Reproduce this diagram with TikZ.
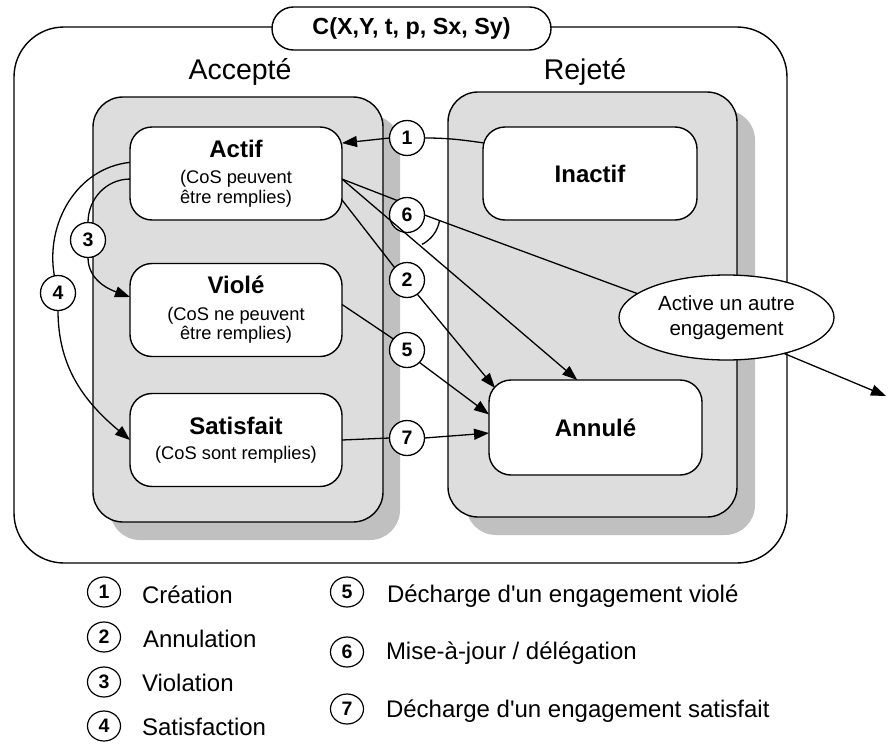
\documentclass[tikz,border=0pt]{standalone}
\usepackage{fontspec}
\setmainfont{Liberation Sans}[Ligatures=TeXOff]
\usetikzlibrary{arrows.meta,shapes.geometric,calc}
\definecolor{boxgray}{HTML}{DDDDDD}
\definecolor{shadegray}{HTML}{C0C0C0}
\begin{document}
\begin{tikzpicture}[x=1pt,y=1pt,
  every node/.style={inner sep=0pt, outer sep=0pt},
  conn/.style={line width=1.3pt},
  tip/.style={-{Triangle[length=15pt,width=11pt]}},
  state/.style={draw, line width=1.4pt, fill=white, rounded corners=22pt, minimum width=212pt, minimum height=93pt, align=center, font=\fontsize{18.3}{19.5}\selectfont},
  num/.style={circle, draw, fill=white, line width=1.3pt, minimum size=35pt, font=\fontsize{19.5}{19.5}\selectfont\bfseries},
  lnum/.style={ellipse, draw, fill=white, line width=1.2pt, minimum width=33pt, minimum height=30pt, font=\fontsize{19.5}{19.5}\selectfont\bfseries},
  ltext/.style={anchor=west, font=\fontsize{24}{24}\selectfont},
  region/.style={font=\fontsize{28.5}{28.5}\selectfont}
]
\useasboundingbox (0,0) rectangle (888,-744);

% outer frame
\draw[line width=1.4pt, rounded corners=50pt] (14,-27) rectangle (787,-563);
\node[draw, fill=white, line width=1.4pt, rounded corners=21.5pt, minimum width=279pt, minimum height=43pt, font=\fontsize{23.3}{23.3}\selectfont\bfseries] (title) at (411.5,-28.5) {C(X,Y, t, p, Sx, Sy)};

\node[region] (acc) at (240,-72) {Accepté};
\node[region] (rej) at (585,-72) {Rejeté};

% gray boxes
\fill[shadegray, rounded corners=30pt] (110,-115) rectangle (400,-540);
\draw[fill=boxgray, line width=1.4pt, rounded corners=30pt] (93,-97) rectangle (383,-522);
\fill[shadegray, rounded corners=30pt] (466,-110) rectangle (755,-535);
\draw[fill=boxgray, line width=1.4pt, rounded corners=30pt] (448,-92) rectangle (737,-517);

% states
\node[state] (act) at (236,-173.5) {{\fontsize{24}{24}\selectfont\bfseries Actif}\\[7pt](CoS peuvent\\être remplies)};
\node[state] (vio) at (236,-310) {{\fontsize{24}{24}\selectfont\bfseries Violé}\\[7pt](CoS ne peuvent\\être remplies)};
\node[state] (sat) at (236,-440) {{\fontsize{24}{24}\selectfont\bfseries Satisfait}\\[5pt](CoS sont remplies)};
\node[state, minimum width=214pt] (inact) at (590,-173.5) {{\fontsize{24}{24}\selectfont\bfseries Inactif}};
\node[state, minimum width=213pt, minimum height=95pt] (ann) at (595.5,-427.5) {{\fontsize{24}{24}\selectfont\bfseries Annulé}};

\node[ellipse, draw, fill=white, line width=1.3pt, minimum width=215pt, minimum height=85pt, align=center, font=\fontsize{20.5}{25}\selectfont] (ell) at (726.5,-317.5) {Active un autre\\engagement};

% numbered circles
\node[num] (c1) at (407,-138) {1};
\node[num] (c6) at (407,-215) {6};
\node[num] (c2) at (407,-280) {2};
\node[num] (c5) at (407,-350) {5};
\node[num] (c7) at (407,-438) {7};
\node[num] (c3) at (88,-240) {3};
\node[num] (c4) at (58,-293) {4};

% connectors
% 1
\draw[conn] (inact.164) to[out=172,in=0] (c1.east);
\draw[conn,tip] (c1.west) -- (act.16);
% 6
\draw[conn] (act.-3.5) -- (c6.124);
\draw[conn] (c6.east) -- (ell.165);
\draw[conn,tip] (act.-3.5) -- (ann.111);
\draw[conn] ($(c6.center)+(-9:33)$) arc[start angle=-9,end angle=-63,radius=33];
% 2
\draw[conn] (act.-14) -- (c2.135);
\draw[conn,tip] (c2.-54) -- ($(ann.center)+(-100.5,39.5)$);
% 5
\draw[conn] (vio.3.8) -- (c5.141);
\draw[conn,tip] (c5.-45) -- (ann.173.4);
% 7
\draw[conn] (sat.east) -- (c7.west);
\draw[conn,tip] (c7.east) -- (ann.183);
% 3
\draw[conn] (act.183.5) to[out=180,in=90] (c3.north);
\draw[conn,tip] (c3.south) to[out=-90,in=160] (vio.173);
% 4
\draw[conn] (act.174.3) to[out=186,in=100] (c4.102);
\draw[conn,tip] (c4.south) to[out=-90,in=140] (sat.west);
% ellipse out
\coordinate (out) at (886,-396);
\draw[conn,tip] (ell.-32) -- (out);

% legend
\node[lnum] (l1) at (104,-592) {1};
\node[lnum] (l2) at (104,-637) {2};
\node[lnum] (l3) at (104,-682) {3};
\node[lnum] (l4) at (104,-726) {4};
\node[lnum] (l5) at (347,-592) {5};
\node[lnum] (l6) at (347,-652) {6};
\node[lnum] (l7) at (347,-709) {7};
\node[ltext] (t1) at (142,-595) {Création};
\node[ltext] (t2) at (143,-639) {Annulation};
\node[ltext] (t3) at (142,-683) {Violation};
\node[ltext] (t4) at (142,-727) {Satisfaction};
\node[ltext] (t5) at (387,-596) {Décharge d'un engagement violé};
\node[ltext] (t6) at (386,-653) {Mise-à-jour / délégation};
\node[ltext] (t7) at (386,-711) {Décharge d'un engagement satisfait};
\end{tikzpicture}
\end{document}
